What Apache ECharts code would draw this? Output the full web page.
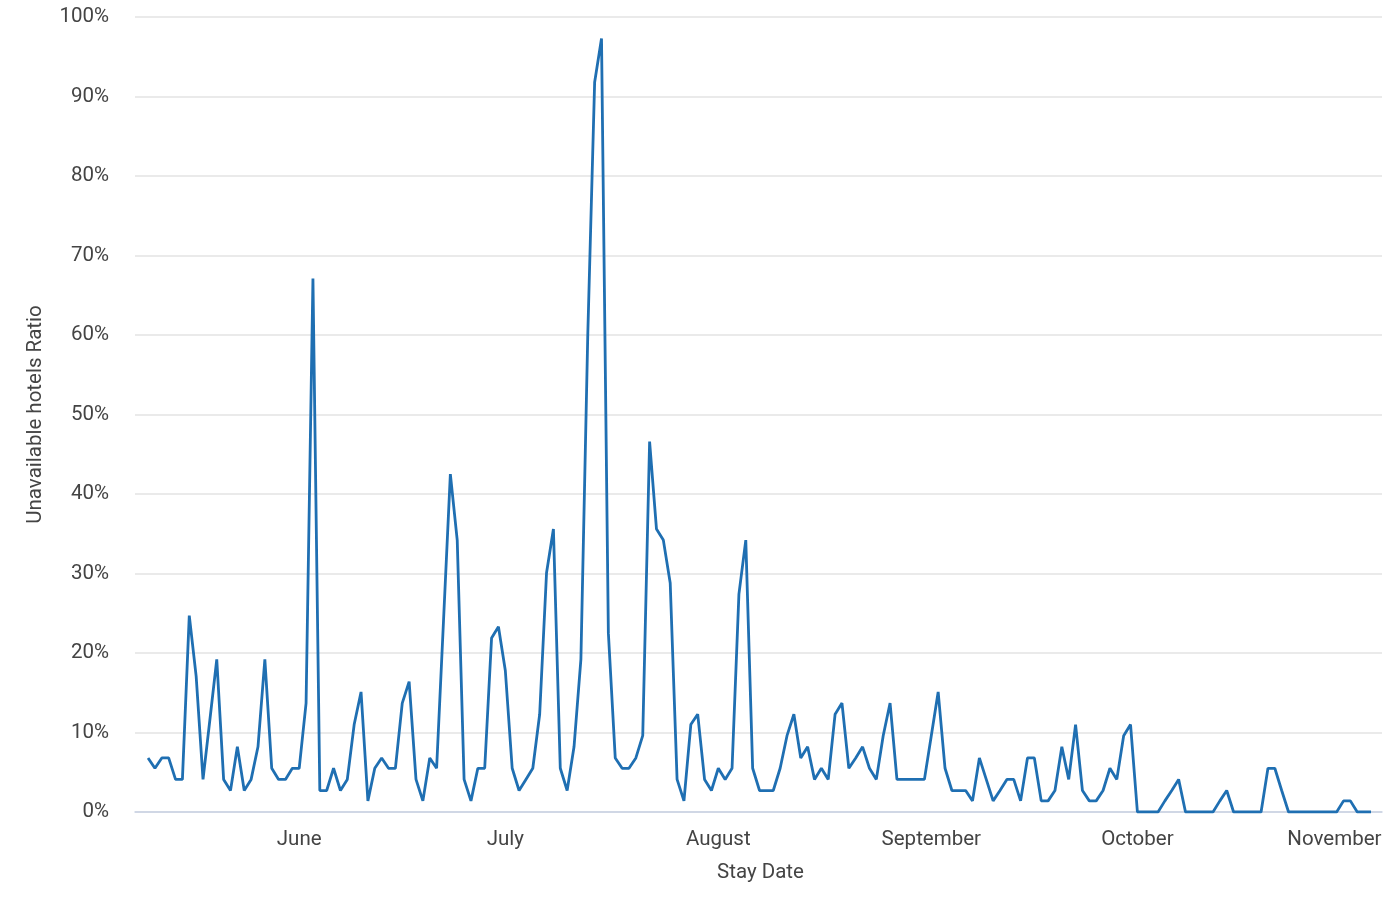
<!DOCTYPE html>
<html>
<head>
<meta charset="utf-8">
<script src="https://cdn.jsdelivr.net/npm/echarts@6/dist/echarts.min.js"></script>
<style>
html,body{margin:0;padding:0;background:#fff;}
#chart{width:1400px;height:909px;}
</style>
</head>
<body>
<div id="chart"></div>
<script>
// first stay date of the daily series
const startDate = '2023-05-10';
// unavailable hotels ratio (%), one value per day from startDate
const ratios = [
  6.8, 5.5, 6.8, 6.8, 4.1, 4.1, 24.7, 17.1, 4.1, 11.6,
  19.2, 4.1, 2.7, 8.2, 2.7, 4.1, 8.2, 19.2, 5.5, 4.1,
  4.1, 5.5, 5.5, 13.7, 67.1, 2.7, 2.7, 5.5, 2.7, 4.1,
  11.0, 15.1, 1.4, 5.5, 6.8, 5.5, 5.5, 13.7, 16.4, 4.1,
  1.4, 6.8, 5.5, 24.0, 42.5, 34.2, 4.1, 1.4, 5.5, 5.5,
  21.9, 23.3, 17.8, 5.5, 2.7, 4.1, 5.5, 12.3, 30.1, 35.6,
  5.5, 2.7, 8.2, 19.2, 60.0, 91.8, 97.3, 22.5, 6.8, 5.5,
  5.5, 6.8, 9.6, 46.6, 35.6, 34.2, 28.8, 4.1, 1.4, 11.0,
  12.3, 4.1, 2.7, 5.5, 4.1, 5.5, 27.4, 34.2, 5.5, 2.7,
  2.7, 2.7, 5.5, 9.6, 12.3, 6.8, 8.2, 4.1, 5.5, 4.1,
  12.3, 13.7, 5.5, 6.8, 8.2, 5.5, 4.1, 9.6, 13.7, 4.1,
  4.1, 4.1, 4.1, 4.1, 9.6, 15.1, 5.5, 2.7, 2.7, 2.7,
  1.4, 6.8, 4.1, 1.4, 2.7, 4.1, 4.1, 1.4, 6.8, 6.8,
  1.4, 1.4, 2.7, 8.2, 4.1, 11.0, 2.7, 1.4, 1.4, 2.7,
  5.5, 4.1, 9.6, 11.0, 0, 0, 0, 0, 1.4, 2.7,
  4.1, 0, 0, 0, 0, 0, 1.4, 2.7, 0, 0,
  0, 0, 0, 5.5, 5.5, 2.7, 0, 0, 0, 0,
  0, 0, 0, 0, 1.4, 1.4, 0, 0, 0
];
// x-axis month labels, placed at the first day of each month
const monthTicks = ['2023-06-01', '2023-07-01', '2023-08-01', '2023-09-01', '2023-10-01', '2023-11-01'];
const monthNames = ['June', 'July', 'August', 'September', 'October', 'November'];
// y-axis ticks
const yTicks = [0, 10, 20, 30, 40, 50, 60, 70, 80, 90, 100];

const DAY = 86400000;
const t0 = Date.parse(startDate + 'T00:00:00Z');
// x = day offset from startDate
const seriesData = ratios.map((v, i) => [i, v]);
const monthPos = monthTicks.map(d => Math.round((Date.parse(d + 'T00:00:00Z') - t0) / DAY));
const lastPos = ratios.length - 1;

const chart = echarts.init(document.getElementById('chart'), null, {renderer: 'canvas'});
const FONT = 'Roboto';
const FS = 20.5;
chart.setOption({
  animation: false,
  grid: {left: 135, right: 18, top: 17, bottom: 97, containLabel: false, outerBoundsMode: 'none'},
  xAxis: {
    type: 'value',
    min: -1.9,
    max: lastPos + 1.6,
    name: 'Stay Date',
    nameLocation: 'middle',
    nameGap: 50,
    nameTextStyle: {fontFamily: FONT, fontSize: FS, color: '#444', padding: [0, 0, 0, 4]},
    axisLine: {show: true, lineStyle: {color: '#c7d1e4', width: 1.5}},
    axisTick: {show: false},
    splitLine: {show: false},
    axisLabel: {
      customValues: monthPos,
      fontFamily: FONT, fontSize: FS, color: '#444', margin: 17,
      hideOverlap: false,
      formatter: function (val) {
        const idx = monthPos.indexOf(Math.round(val));
        if (idx < 0) return '';
        const name = monthNames[idx];
        return idx === monthNames.length - 1 ? '{n|' + name + '}' : name;
      },
      rich: {n: {fontFamily: FONT, fontSize: FS, color: '#444', padding: [0, 32, 0, 0]}}
    }
  },
  yAxis: {
    type: 'value',
    min: yTicks[0],
    max: yTicks[yTicks.length - 1],
    interval: 10,
    name: 'Unavailable hotels Ratio',
    nameLocation: 'middle',
    nameGap: 89,
    nameTextStyle: {fontFamily: FONT, fontSize: FS, color: '#444'},
    axisLine: {show: false},
    axisTick: {show: false},
    axisLabel: {fontFamily: FONT, fontSize: FS, color: '#444', margin: 26, formatter: '{value}%'},
    splitLine: {show: true, lineStyle: {color: '#e3e3e3', width: 1.5}}
  },
  series: [{
    type: 'line',
    data: seriesData,
    showSymbol: false,
    symbol: 'none',
    lineStyle: {color: '#1f6fb2', width: 2.8},
    itemStyle: {color: '#1f6fb2'}
  }]
});
</script>
</body>
</html>
